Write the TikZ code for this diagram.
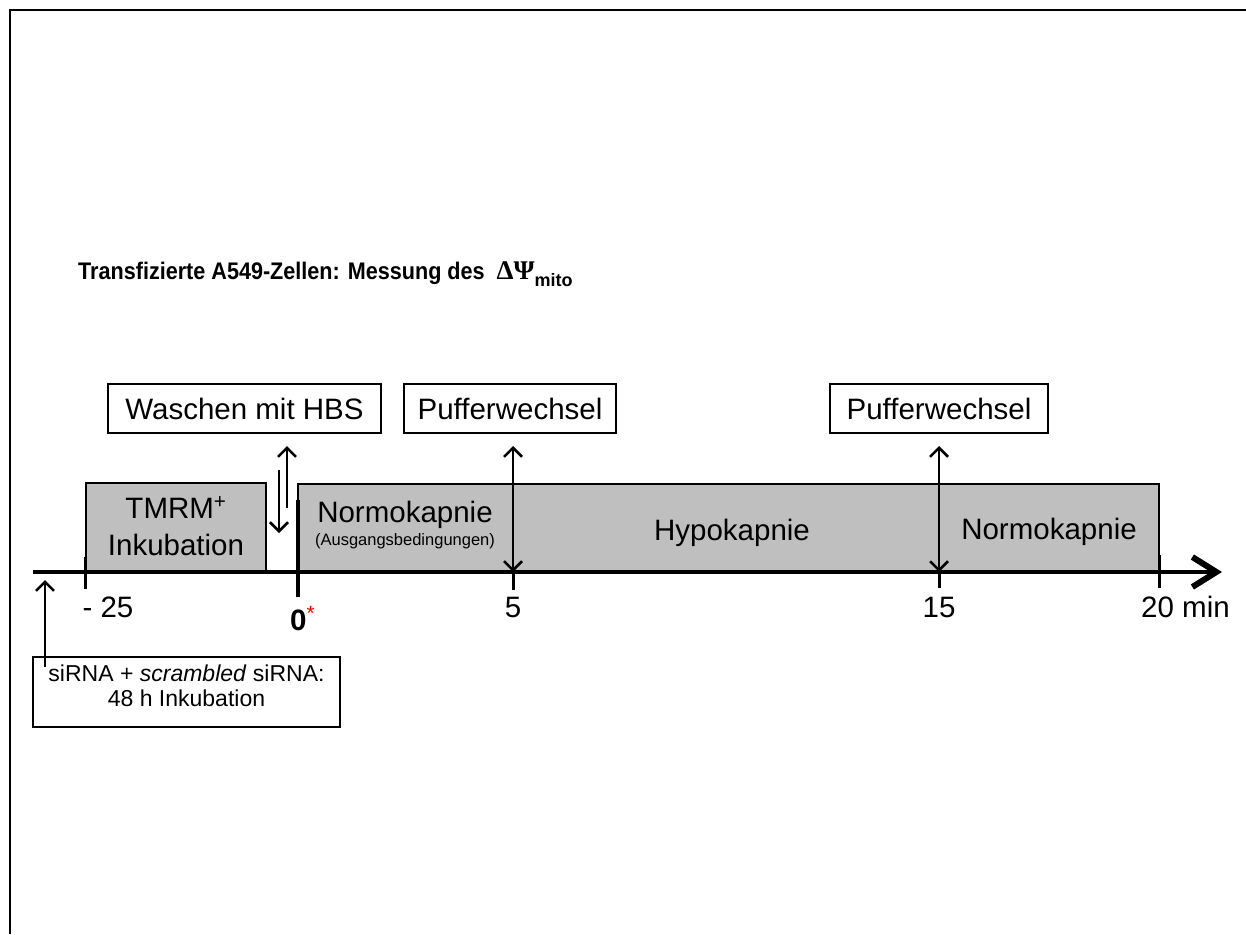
\documentclass[tikz,border=0pt]{standalone}
\usepackage{fontspec}
\setmainfont{Liberation Sans}
\newfontfamily\greekfont{Liberation Serif}
\usetikzlibrary{arrows.meta}
\definecolor{phasegray}{RGB}{191,191,191}
\begin{document}
\begin{tikzpicture}[x=1pt,y=-1pt,
  bigfont/.style={font=\fontsize{29.5}{34}\selectfont},
  lbl/.style={bigfont, inner sep=0pt, anchor=base},
  labelbox/.style={draw, line width=2pt, minimum height=49pt, inner sep=0pt, bigfont},
  phase/.style={draw, line width=2pt, fill=phasegray, inner sep=0pt},
  tickline/.style={line width=3pt},
  barb/.style={line width=2.5pt},
  tip/.tip={Straight Barb[length=9pt,width=18pt]},
]
\useasboundingbox (0,0) rectangle (1246,934);
% frame edges
\draw[line width=2.2pt] (10,934) -- (10,10) -- (1246,10);

% title
\node[anchor=base west, inner sep=0pt, font=\bfseries\fontsize{24}{28}\selectfont] (title) at (78,279)
  {\scalebox{0.9}[1]{Transfizierte A549-Zellen: Messung des}\hspace{0.5em}{\greekfont\fontsize{27}{30}\selectfont ΔΨ}\raisebox{-7pt}{\fontsize{18}{18}\selectfont mito}};

% phases on the time line
\node[phase, minimum width=180pt, minimum height=89pt] (tmrm) at (176,527.5) {};
\node[phase, minimum width=861pt, minimum height=88pt] (main) at (728.5,528) {};

% labels above the time line
\node[labelbox, minimum width=273pt] (wash) at (244.5,408.5) {Waschen mit HBS};
\node[labelbox, minimum width=212pt] (buf1) at (510,408.5) {Pufferwechsel};
\node[labelbox, minimum width=218pt] (buf2) at (939,408.5) {Pufferwechsel};

% phase texts
\node[lbl] (tmrmA) at (176,518) {TMRM\textsuperscript{+}};
\node[lbl] (tmrmB) at (176,555) {Inkubation};
\node[lbl] (norm1) at (405,522) {Normokapnie};
\node[lbl, font=\fontsize{16.5}{18}\selectfont] (norm1b) at (405,545) {(Ausgangsbedingungen)};
\node[lbl] (hypo) at (732,540) {Hypokapnie};
\node[lbl] (norm2) at (1049,539) {Normokapnie};

% time axis
\coordinate (axstart) at (33,572);
\coordinate (axend) at (1222,572);
\coordinate (t25) at (85,572);
\coordinate (t0) at (298,572);
\coordinate (t5) at (513,572);
\coordinate (t15) at (939,572);
\coordinate (t20) at (1159,572);
\draw[line width=4.5pt, -{Straight Barb[length=24pt,width=30pt,line width=6pt]}] (axstart) -- (axend);

% ticks
\draw[tickline] ([yshift=15pt]t25) -- ([yshift=-17pt]t25);
\draw[line width=3.5pt] ([yshift=72pt]t0) -- ([yshift=-25pt]t0);
\draw[tickline] (t5) -- ([yshift=-18pt]t5);
\draw[tickline] (t15) -- ([yshift=-16pt]t15);
\draw[tickline] ([yshift=17pt]t20) -- ([yshift=-16pt]t20);

% buffer changes
\draw[barb, {tip}-{tip}] ([yshift=-12pt]buf1.south -| t5) -- (t5);
\draw[barb, {tip}-{tip}] ([yshift=-12pt]buf2.south -| t15) -- (t15);

% washing step
\coordinate (washup) at (287,508);
\coordinate (washdown) at (279,470);
\draw[barb, -{tip}] (washup) -- ([yshift=-12pt]wash.south -| washup);
\draw[barb, -{tip}] (washdown) -- (279,533);

% axis labels
\node[lbl] (l25) at (108,617) {- 25};
\node[lbl, anchor=base west, font=\bfseries\fontsize{29.5}{34}\selectfont] (l0) at (290,630) {0\textcolor{red}{\textsuperscript{\normalfont *}}};
\node[lbl] (l5) at (513,617) {5};
\node[lbl] (l15) at (939,617) {15};
\node[lbl, anchor=base west] (l20) at (1141,617) {20 min};

% transfection
\node[draw, line width=1.5pt, minimum width=307pt, minimum height=70pt, inner sep=0pt] (sirna) at (186.5,692) {};
\node[inner sep=0pt, align=center, anchor=base, font=\fontsize{23}{25}\selectfont] (sirnatext) at (186.5,706)
  {siRNA + \textit{scrambled} siRNA:\\48 h Inkubation};
\coordinate (sirnastart) at (45,667);
\draw[barb, -{tip}] (sirnastart) -- ([yshift=-8pt]axstart -| sirnastart);
\end{tikzpicture}
\end{document}
